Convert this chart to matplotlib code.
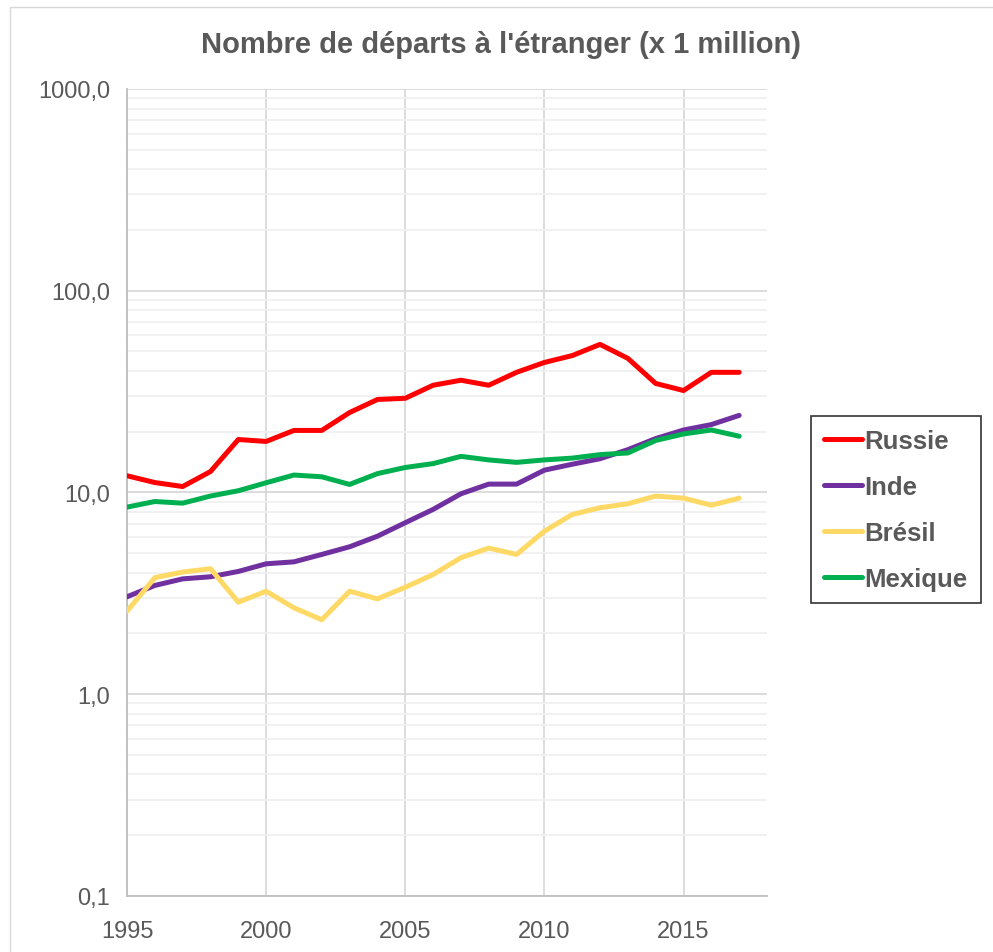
import matplotlib
matplotlib.use("Agg")
import matplotlib.pyplot as plt
from matplotlib.ticker import FixedLocator, FuncFormatter, LogLocator, NullFormatter
from matplotlib.patches import Rectangle

plt.rcParams['font.family'] = ['Liberation Sans Narrow', 'Liberation Sans', 'DejaVu Sans']

years = list(range(1995, 2018))
russie = [12.1, 11.2, 10.7, 12.7, 18.3, 17.9, 20.3, 20.3, 24.9, 28.9, 29.3, 34.0,
          36.0, 34.0, 39.4, 44.1, 47.7, 54.2, 46.2, 34.7, 32.0, 39.4, 39.4]
inde = [3.04, 3.46, 3.73, 3.82, 4.06, 4.43, 4.53, 4.93, 5.38, 6.07, 7.08, 8.24,
        9.85, 11.0, 11.0, 12.9, 13.8, 14.7, 16.3, 18.5, 20.4, 21.7, 24.1]
bresil = [2.58, 3.78, 4.03, 4.19, 2.86, 3.24, 2.68, 2.34, 3.24, 2.97, 3.39, 3.92,
          4.75, 5.3, 4.93, 6.43, 7.78, 8.4, 8.79, 9.6, 9.37, 8.65, 9.37]
mexique = [8.46, 9.02, 8.85, 9.6, 10.2, 11.17, 12.2, 11.96, 10.96, 12.4, 13.3, 13.9,
           15.1, 14.5, 14.1, 14.5, 14.8, 15.4, 15.7, 18.1, 19.5, 20.4, 19.0]

series = [("Russie", russie, "#ff0000"),
          ("Inde", inde, "#7030a0"),
          ("Brésil", bresil, "#ffd966"),
          ("Mexique", mexique, "#00b050")]

fig = plt.figure(figsize=(9.93, 9.53), dpi=100)
ax = fig.add_axes([0.1279, 0.0588, 0.7724 - 0.1279, 0.9056 - 0.0588])

# chart area border
fig.patches.append(Rectangle((10 / 993, -0.01), 1.0, 1 - 8 / 953 + 0.01,
                             transform=fig.transFigure, fill=False,
                             edgecolor="#d9d9d9", linewidth=1.0))

for name, vals, col in series:
    ax.plot(years, vals, color=col, linewidth=3.6, label=name,
            solid_capstyle='round', solid_joinstyle='round', zorder=3)

ax.set_yscale('log')
ax.set_ylim(0.1, 1000)
ax.set_xlim(1995, 2018)

ax.yaxis.set_major_locator(FixedLocator([0.1, 1, 10, 100, 1000]))
ax.yaxis.set_major_formatter(FuncFormatter(lambda v, p: f"{v:.1f}".replace('.', ',')))
ax.yaxis.set_minor_locator(LogLocator(base=10, subs=range(2, 10)))
ax.yaxis.set_minor_formatter(NullFormatter())
ax.xaxis.set_major_locator(FixedLocator([1995, 2000, 2005, 2010, 2015]))

ax.grid(True, which='major', axis='both', color='#d9d9d9', linewidth=1.3, zorder=0)
ax.grid(True, which='minor', axis='y', color='#f0f0f0', linewidth=1.3, zorder=0)

for side in ['top', 'right']:
    ax.spines[side].set_visible(False)
for side in ['left', 'bottom']:
    ax.spines[side].set_color('#bfbfbf')
    ax.spines[side].set_linewidth(1.3)

ax.tick_params(axis='both', which='both', length=0, labelsize=17, labelcolor='#595959')
ax.tick_params(axis='x', pad=17)
ax.tick_params(axis='y', pad=12)

fig.text(0.505, 0.953, "Nombre de départs à l'étranger (x 1 million)",
         ha='center', va='center', fontsize=21, fontweight='bold', color='#595959')

leg = ax.legend(loc='center', bbox_to_anchor=(0.902, 0.464), bbox_transform=fig.transFigure,
                frameon=True, fancybox=False, fontsize=18.5, handlelength=1.5,
                handletextpad=0.1, labelspacing=0.85, borderpad=0.5)
leg.get_frame().set_edgecolor('black')
leg.get_frame().set_linewidth(1.2)
for t in leg.get_texts():
    t.set_color('#595959')
    t.set_fontweight('bold')

fig.savefig("out.png", dpi=100)
